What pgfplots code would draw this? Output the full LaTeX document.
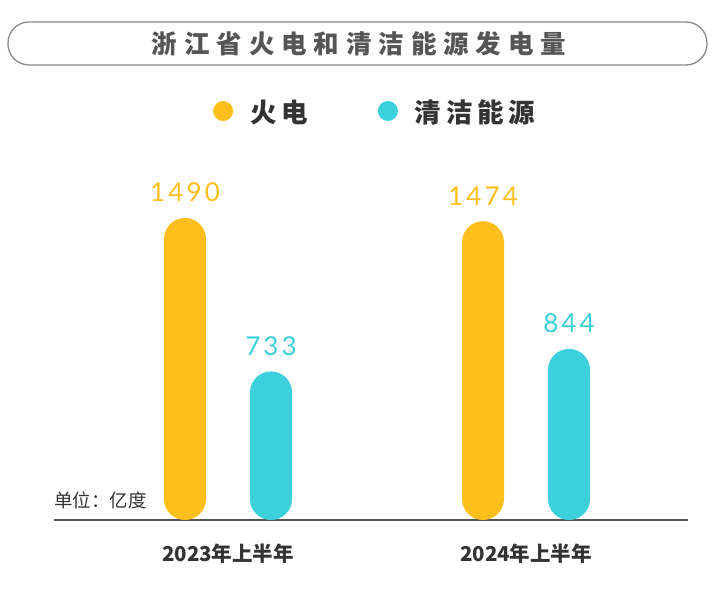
\documentclass[border=0pt]{standalone}
\usepackage{pgfplots}
\usepackage{pgfplotstable}
\pgfplotsset{compat=1.18}
\usepackage{fontspec}
\setmainfont{Lato}
\newfontfamily\cjk{Noto Sans CJK SC}
\newfontfamily\titlefont[LetterSpace=27]{Noto Sans CJK SC}
\newfontfamily\legfont[LetterSpace=18]{Noto Sans CJK SC}
\newfontfamily\numfont[LetterSpace=12]{Lato}
\definecolor{fire}{HTML}{FEBE1C}
\definecolor{clean}{HTML}{3BD0DC}
\definecolor{dark}{HTML}{333333}
\definecolor{tgray}{HTML}{555555}
\definecolor{bgray}{HTML}{8A8A8A}
\definecolor{agray}{HTML}{555555}

\pgfplotstableread{
x y label
0 1490 1490
1 1474 1474
}\firetab
\pgfplotstableread{
x y label
0 733 733
1 844 844
}\cleantab

\begin{document}
\begin{tikzpicture}[x=1bp,y=1bp]
\path[use as bounding box] (0,0) rectangle (720,593);
% title box
\draw[bgray, line width=1.3bp, rounded corners=21bp] (8,528) rectangle (707,571);
\node[text=tgray, font=\titlefont\bfseries\fontsize{25.5bp}{30bp}\selectfont, inner sep=0] at (359,549.5) {浙江省火电和清洁能源发电量};
\node[text=dark, font=\cjk\fontsize{18.5bp}{22bp}\selectfont, anchor=west, inner sep=0] at (54,93) {单位：亿度};
\begin{axis}[
  at={(54bp,73bp)}, anchor=south west,
  scale only axis, width=634bp, height=324.32bp,
  xmin=-0.5839, xmax=1.5436, ymin=0, ymax=1600,
  axis x line=bottom, axis y line=none,
  axis line style={draw=agray, line width=1.3bp, -},
  xtick={0,1}, xticklabels={2023年上半年,2024年上半年},
  ytick=\empty,
  major tick length=0,
  xticklabel style={font=\cjk\bfseries\fontsize{20.5bp}{24bp}\selectfont, text=dark, anchor=base, inner sep=0, yshift=-42bp},
  ybar=44bp, bar width=42bp,
  clip=false,
  nodes near coords, point meta=explicit symbolic,
  every node near coord/.append style={font=\numfont\fontsize{26bp}{30bp}\selectfont, anchor=base, inner sep=0, yshift=16bp},
  legend columns=2,
  legend style={draw=none, fill=none, at={(0.505,1.258)}, anchor=center, inner sep=0,
    nodes={inner sep=0, text=dark, font=\legfont\bfseries\fontsize{26.5bp}{30bp}\selectfont},
    /tikz/every odd column/.append style={column sep=17bp},
    /tikz/every even column/.append style={column sep=70bp}},
]
\addplot[fill=fire, draw=none, rounded corners=21bp,
  every node near coord/.append style={text=fire},
  legend image code/.code={\fill[fire] (10bp,1bp) circle (10bp);}]
  table[x=x, y=y, meta=label] {\firetab};
\addlegendentry{火电}
\addplot[fill=clean, draw=none, rounded corners=21bp,
  every node near coord/.append style={text=clean},
  legend image code/.code={\fill[clean] (10bp,1bp) circle (10bp);}]
  table[x=x, y=y, meta=label] {\cleantab};
\addlegendentry{清洁能源}
\end{axis}
\end{tikzpicture}
\end{document}
